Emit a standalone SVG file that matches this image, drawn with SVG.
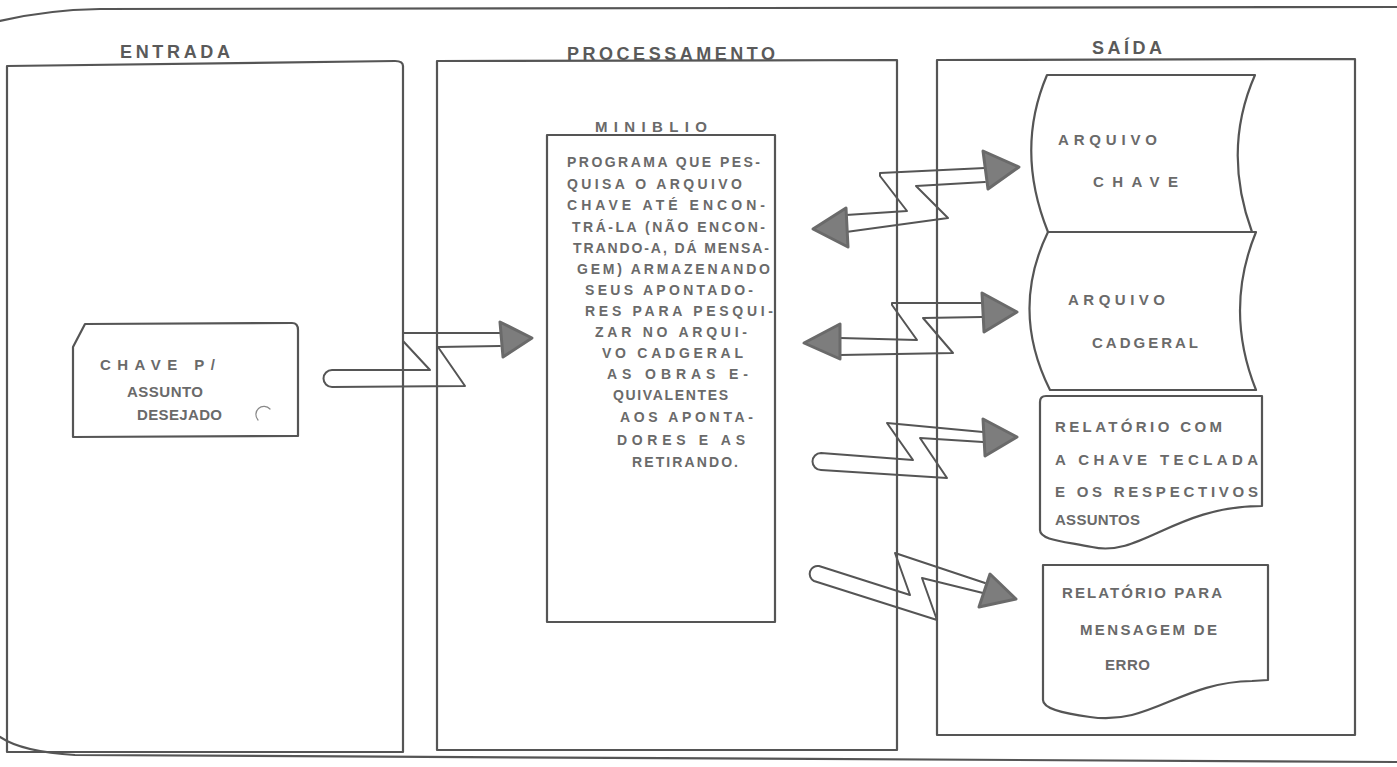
<svg xmlns="http://www.w3.org/2000/svg" width="1397" height="767" viewBox="0 0 1397 767">
<style>
.ln{fill:none;stroke:#555;stroke-width:2.2;stroke-linejoin:round;stroke-linecap:round}
.doc{fill:#fff;stroke:#555;stroke-width:2.2;stroke-linejoin:round}
.band{fill:none;stroke:#555;stroke-width:2;stroke-linejoin:round;stroke-linecap:round}
.head{fill:#7d7d7d;stroke:#6a6a6a;stroke-width:3;stroke-linejoin:round}
.hdr{font-family:"Liberation Sans",Arial,sans-serif;font-weight:bold;font-size:18px;fill:#5a5a5a}
.t{font-family:"Liberation Sans",Arial,sans-serif;font-weight:bold;font-size:14px;fill:#6a6a6a}
.td{font-family:"Liberation Sans",Arial,sans-serif;font-weight:bold;font-size:15px;fill:#6a6a6a}
</style>
<rect width="1397" height="767" fill="#fff"/>
<g id="frame">
<path class="ln" d="M0,21 Q45,10 100,9 L1397,7"/>
<path class="ln" d="M0,737 Q22,752 75,755 L1397,762"/>
</g>
<g id="entrada">
<path class="ln" d="M7,66 L395,61 Q403,61 403,66 L403,752 L7,752 Z"/>
<text class="hdr" x="120" y="58" textLength="110" lengthAdjust="spacing">ENTRADA</text>
</g>
<g id="processamento">
<path class="ln" d="M437,61 L897,60 L897,750 L437,750 Z"/>
<text class="hdr" x="567" y="60" textLength="208" lengthAdjust="spacing">PROCESSAMENTO</text>
</g>
<g id="saida">
<path class="ln" d="M937,60 L1355,59 L1355,735 L937,735 Z"/>
<text class="hdr" x="1092" y="54" textLength="70" lengthAdjust="spacing">SAÍDA</text>
</g>
<g id="chave-assunto">
<path class="ln" d="M73,437 L73,347 L85,324 L292,323 Q298,323 298,330 L298,436 Z"/>
<path class="ln" d="M270,409 A7,7 0 0 0 258,420" style="stroke-width:1.2;stroke:#888"/>
<text class="td" x="100" y="370" textLength="115" lengthAdjust="spacing">CHAVE P/</text>
<text class="td" x="127" y="397" textLength="76" lengthAdjust="spacing">ASSUNTO</text>
<text class="td" x="137" y="420" textLength="85" lengthAdjust="spacing">DESEJADO</text>
</g>
<g id="miniblio">
<text class="td" x="595" y="132" textLength="112" lengthAdjust="spacing">MINIBLIO</text>
<rect class="ln" x="547" y="135" width="228" height="487"/>
<text class="t" x="567" y="167" textLength="193" lengthAdjust="spacing">PROGRAMA QUE PES-</text>
<text class="t" x="567" y="189" textLength="175" lengthAdjust="spacing">QUISA O ARQUIVO</text>
<text class="t" x="567" y="210" textLength="198" lengthAdjust="spacing">CHAVE ATÉ ENCON-</text>
<text class="t" x="572" y="232" textLength="193" lengthAdjust="spacing">TRÁ-LA (NÃO ENCON-</text>
<text class="t" x="573" y="253" textLength="196" lengthAdjust="spacing">TRANDO-A, DÁ MENSA-</text>
<text class="t" x="577" y="274" textLength="193" lengthAdjust="spacing">GEM) ARMAZENANDO</text>
<text class="t" x="585" y="295" textLength="168" lengthAdjust="spacing">SEUS APONTADO-</text>
<text class="t" x="585" y="316" textLength="188" lengthAdjust="spacing">RES PARA PESQUI-</text>
<text class="t" x="595" y="337" textLength="152" lengthAdjust="spacing">ZAR NO ARQUI-</text>
<text class="t" x="602" y="358" textLength="141" lengthAdjust="spacing">VO CADGERAL</text>
<text class="t" x="607" y="379" textLength="141" lengthAdjust="spacing">AS OBRAS E-</text>
<text class="t" x="613" y="400" textLength="115" lengthAdjust="spacing">QUIVALENTES</text>
<text class="t" x="620" y="422" textLength="133" lengthAdjust="spacing">AOS APONTA-</text>
<text class="t" x="617" y="445" textLength="128" lengthAdjust="spacing">DORES E AS</text>
<text class="t" x="632" y="467" textLength="106" lengthAdjust="spacing">RETIRANDO.</text>
</g>
<g id="arquivo-chave">
<path class="doc" d="M1047,75 L1255,75 Q1222,150 1252,232 L1048,232 Q1015,150 1047,75 Z"/>
<text class="td" x="1058" y="145" textLength="99" lengthAdjust="spacing">ARQUIVO</text>
<text class="td" x="1093" y="187" textLength="85" lengthAdjust="spacing">CHAVE</text>
</g>
<g id="arquivo-cadgeral">
<path class="doc" d="M1048,232 L1256,232 Q1224,310 1256,390 L1050,390 Q1010,310 1048,232 Z"/>
<text class="td" x="1068" y="305" textLength="97" lengthAdjust="spacing">ARQUIVO</text>
<text class="td" x="1092" y="348" textLength="106" lengthAdjust="spacing">CADGERAL</text>
</g>
<g id="relatorio-chave">
<path class="doc" d="M1040,402 Q1040,396 1046,396 L1262,396 L1262,506 C1175,506 1140,558 1092,547 C1062,541 1040,540 1040,530 Z"/>
<text class="td" x="1055" y="432" textLength="167" lengthAdjust="spacing">RELATÓRIO COM</text>
<text class="td" x="1055" y="465" textLength="203" lengthAdjust="spacing">A CHAVE TECLADA</text>
<text class="td" x="1055" y="497" textLength="203" lengthAdjust="spacing">E OS RESPECTIVOS</text>
<text class="td" x="1055" y="525" textLength="85" lengthAdjust="spacing">ASSUNTOS</text>
</g>
<g id="relatorio-erro">
<path class="doc" d="M1043,565 L1268,565 L1268,680 L1252,681 C1180,682 1150,726 1090,717 C1060,713 1043,708 1043,700 Z"/>
<text class="td" x="1062" y="598" textLength="160" lengthAdjust="spacing">RELATÓRIO PARA</text>
<text class="td" x="1080" y="635" textLength="137" lengthAdjust="spacing">MENSAGEM DE</text>
<text class="td" x="1105" y="670" textLength="45" lengthAdjust="spacing">ERRO</text>
</g>
<g id="connectors">
<path class="band" d="M500,333 L403,333 L403,341 L430,370 L332,370 A8.5,8.5 0 0 0 332,387 L465,386 L438,347 L500,346"/>
<polygon class="head" points="500,322 503,357 532,338"/>
<path class="band" d="M846,215 L907,211 L880,176 L880,173 L985,168 M985,182 L916,186 L948,218 L846,232"/>
<polygon class="head" points="983,151 988,189 1019,167"/>
<polygon class="head" points="846,208 848,247 813,229"/>
<path class="band" d="M840,338 L917,340 L892,305 L892,303 L982,303 M982,317 L923,318 L953,353 L840,355"/>
<polygon class="head" points="982,293 984,332 1017,312"/>
<polygon class="head" points="840,324 840,359 804,343"/>
<path class="band" d="M983,432 L887,423 L913,460 L821,453 A8.5,8.5 0 0 0 821,470 L947,478 L920,438 L983,442"/>
<polygon class="head" points="983,419 985,456 1017,437"/>
<path class="band" d="M985,583 L895,553 L910,595 L819,566 A8,8 0 0 0 814,581 L937,620 L922,578 L983,593"/>
<polygon class="head" points="990,574 979,607 1016,599"/>
</g>
</svg>
